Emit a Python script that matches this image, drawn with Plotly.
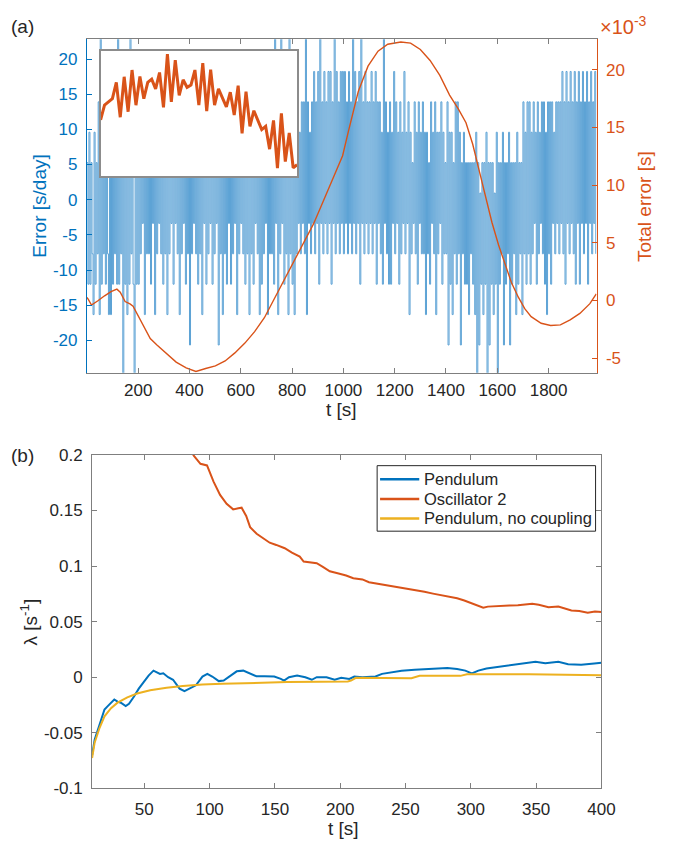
import plotly.graph_objects as go

W, H = 685, 858

MAT_BLUE = "rgb(0,114,189)"
MAT_ORANGE = "rgb(217,83,25)"
MAT_YELLOW = "rgb(237,177,32)"
ERR_BLUE = "rgb(92,162,213)"
TXT = "#262626"
AX = "#7f7f7f"
FONT = "Liberation Sans, Arial, Helvetica, sans-serif"

# ---------------- panel (a) ----------------
# per-swing error, quantised in 4.32 s/day steps; one letter per sample (a..m -> level index)
level_codes = "abcdefghijklm"
error_levels = [-24.97, -20.65, -16.33, -12.01, -7.69, -3.37, 0.95,
                5.27, 9.59, 13.91, 18.23, 22.55, 26.87]
error_dt = 4.0  # s between samples
# one string per 40 s block
error_blocks = [
    "hdidhecidh", "ejcmdheidh", "echchdiehd", "mdheiahdic", "hdmehdahdi",
    "dhehficheh", "ehdhfhchei", "fhehdiehch", "ehfidhfheh", "chehfidheh",
    "bhehfiehdh", "ehchfidheh", "fhdhehfibh", "ehchehdhfi", "dhehfichei",
    "fhehdhehci", "ehdhfhehch", "dhehfhchei", "ehdmfhchem", "fhdheicmeh",
    "dhciejfiej", "fjemcjfiej", "fkejfkdmfj", "ekfjekfkdj", "fmekfjekfk",
    "ekfjekfjem", "fkejfkdmfj", "ekfjejfkej", "fkdjfjeidm", "fjeidjdifk",
    "ejfidjeifk", "eifjciehfj", "eidjfiejei", "ciehdjfiej", "cieifjdieh",
    "ejbidichej", "djeibheidh", "dhchehdhci", "ahbgdhchdi", "ahbhdhcgdi",
    "ahdheibhdh", "eibhdhehci", "dhehcjeidj", "ejdiejfidj", "eifjejdicj",
    "ejdjfiejfj", "ejfkejdkfj", "ekfjekdjfk", "djfkejfkdj", "fkejfke",
]
error_seq = "".join(error_blocks)
error_t = [i * error_dt for i in range(len(error_seq))]
error_val = [error_levels[level_codes.index(c)] for c in error_seq]

# accumulated error, units of 1e-3 s
total_t = [0, 5, 18, 30, 43, 69, 94, 117, 130, 149, 168, 180, 200, 221, 247, 272,
           310, 348, 387, 425, 463, 501, 539, 577, 616, 654, 692, 730, 768, 806,
           845, 883, 921, 959, 997, 1020, 1058, 1096, 1135, 1173, 1224, 1262, 1300,
           1338, 1376, 1414, 1448, 1478, 1504, 1529, 1555, 1579, 1605, 1631, 1655,
           1682, 1707, 1732, 1771, 1808, 1846, 1884, 1922, 1961, 1986]
total_err = [0.25, 0.11, -0.40, -0.25, -0.03, 0.40, 0.76, 0.98, 0.72, -0.10, -0.30,
             -0.50, -1.30, -2.20, -3.30, -3.85, -4.60, -5.35, -5.85, -6.16, -5.90,
             -5.68, -5.25, -4.55, -3.70, -2.71, -1.50, 0.11, 1.67, 3.22, 4.92, 6.61,
             8.58, 10.57, 12.54, 14.7, 18.1, 20.3, 21.6, 22.2, 22.4, 22.3, 21.75,
             20.8, 19.5, 17.8, 16.6, 15.4, 13.56, 11.3, 9.04, 6.78, 4.8, 3.11, 1.55,
             0.28, -0.71, -1.41, -1.98, -2.17, -2.12, -1.69, -1.13, -0.28, 0.57]

# inset trace (arbitrary units)
inset_values = [44.8, 56.5, 59.1, 61.7, 74.7, 46.9, 79.2, 51.3, 84.6, 56.5, 79.4,
                61.7, 74.7, 77.3, 69.5, 82.6, 54.7, 97.4, 59.1, 92.4, 64.3, 76.8,
                70.8, 72.7, 84.6, 56.5, 90.1, 51.8, 84.9, 56.5, 69.5, 63.0, 55.2,
                66.9, 48.7, 72.1, 33.9, 67.4, 39.6, 52.1, 44.8, 37.0, 39.6, 21.4,
                44.3, 6.3, 50.0, 11.5, 34.4, 6.5, 8.9]
inset_index = list(range(len(inset_values)))

# ---------------- panel (b) ----------------
osc2_t = [86, 88, 93, 98, 103, 108, 113, 118, 122, 124.5, 128, 131, 136, 141, 146,
          151, 157.5, 163, 169, 172, 177, 182, 187, 192, 198, 204.5, 210, 217, 222,
          227, 233, 239.5, 246, 252, 258, 264.5, 271, 277, 283, 289.5, 295, 299.5,
          305, 309.5, 313, 317, 323, 329.5, 336, 342, 347, 352, 359.5, 367, 372,
          377, 383, 389.5, 395, 400]
osc2_lam = [0.203, 0.199, 0.192, 0.1905, 0.176, 0.164, 0.156, 0.151, 0.152, 0.1525,
            0.145, 0.135, 0.129, 0.1246, 0.121, 0.119, 0.116, 0.112, 0.1085, 0.104,
            0.103, 0.1026, 0.099, 0.0953, 0.0935, 0.0915, 0.089, 0.088, 0.0855,
            0.0845, 0.083, 0.0821, 0.0805, 0.0797, 0.078, 0.0768, 0.0752, 0.0739,
            0.0725, 0.071, 0.069, 0.0669, 0.064, 0.0625, 0.0635, 0.0639, 0.064,
            0.0645, 0.0648, 0.0655, 0.066, 0.0651, 0.063, 0.0636, 0.0615, 0.060,
            0.0595, 0.058, 0.059, 0.0586]

pend_t = [10, 12, 15.75, 19.5, 22, 24.5, 27, 29.5, 32, 35.75, 38.25, 42, 45.75, 49.5,
          53.25, 57, 59.5, 62, 64.5, 68.25, 72, 77, 80.75, 84.5, 89.5, 94.5, 98.25,
          102, 107, 110.75, 115.75, 120.75, 125.75, 130.75, 135.75, 142, 149.5,
          154.5, 157, 160.75, 167, 173.25, 178.25, 182, 189.5, 195.75, 200.75, 207,
          210.75, 217, 222, 227, 232, 239.5, 247, 257, 269.5, 282, 289.5, 295.75,
          300.75, 305.75, 312, 322, 332, 342, 349.5, 357, 367, 374.5, 384.5, 394.5,
          400]
pend_lam = [-0.070, -0.056, -0.0425, -0.029, -0.026, -0.023, -0.020, -0.022, -0.023,
            -0.026, -0.024, -0.0176, -0.0103, -0.0044, 0.0015, 0.0059, 0.0044, 0.003,
            0.0035, 0.0, -0.0023, -0.0103, -0.0126, -0.0103, -0.0073, 0.0006, 0.003,
            0.0006, -0.0035, -0.003, 0.0015, 0.0053, 0.0059, 0.0035, 0.0009, 0.0009,
            0.0006, -0.0015, -0.003, 0.0, 0.0015, 0.0, -0.0023, 0.0, 0.0, -0.0023,
            -0.0006, -0.0015, 0.0006, 0.0, 0.0006, 0.0006, 0.003, 0.0044, 0.0059,
            0.0067, 0.0073, 0.0082, 0.0073, 0.0059, 0.0035, 0.0059, 0.0079, 0.0094,
            0.0108, 0.0129, 0.0138, 0.0126, 0.0138, 0.0117, 0.0111, 0.0123, 0.0129]

nocoup_t = [10, 12, 15.75, 19.5, 24.5, 29.5, 37, 44.5, 54.5, 67, 79.5, 94.5, 109.5,
            134.5, 159.5, 184.5, 205.75, 208.25, 212, 254.5, 260.75, 292, 297,
            344.5, 400]
nocoup_lam = [-0.0727, -0.0587, -0.0455, -0.0352, -0.0279, -0.0229, -0.0182, -0.0147,
              -0.0117, -0.0094, -0.0079, -0.0065, -0.0059, -0.005, -0.0044, -0.0041,
              -0.0038, -0.003, -0.0006, -0.0009, 0.0012, 0.0012, 0.0026, 0.0026,
              0.0018]

a_xticks = [200, 400, 600, 800, 1000, 1200, 1400, 1600, 1800]
a_yticks = [-20, -15, -10, -5, 0, 5, 10, 15, 20]
a_y2ticks = [-5, 0, 5, 10, 15, 20]
b_xticks = [50, 100, 150, 200, 250, 300, 350, 400]
b_yticks = [-0.1, -0.05, 0, 0.05, 0.1, 0.15, 0.2]
b_ytext = ["-0.1", "-0.05", "0", "0.05", "0.1", "0.15", "0.2"]

legend_names = ["Pendulum", "Oscillator 2", "Pendulum, no coupling"]
legend_colors = [MAT_BLUE, MAT_ORANGE, MAT_YELLOW]


def px(x):
    return x / W


def py(y):
    return 1 - y / H


fig = go.Figure()

fig.add_trace(go.Scatter(x=error_t, y=error_val, mode="lines", xaxis="x", yaxis="y",
                         line=dict(color=ERR_BLUE, width=1, shape="hv", simplify=False),
                         showlegend=False, hoverinfo="skip"))
fig.add_trace(go.Scatter(x=total_t, y=total_err, mode="lines", xaxis="x", yaxis="y2",
                         line=dict(color=MAT_ORANGE, width=1.4),
                         showlegend=False, hoverinfo="skip"))

# inset: white panel then its curve
fig.add_trace(go.Scatter(x=[0, 50, 50, 0, 0], y=[0, 0, 100, 100, 0], mode="lines",
                         fill="toself", fillcolor="white", line=dict(width=0),
                         xaxis="x3", yaxis="y4", showlegend=False, hoverinfo="skip"))
fig.add_trace(go.Scatter(x=inset_index, y=inset_values, mode="lines",
                         xaxis="x3", yaxis="y4",
                         line=dict(color=MAT_ORANGE, width=3),
                         showlegend=False, hoverinfo="skip"))

# panel (b)
for name, tt, vv, col in [(legend_names[0], pend_t, pend_lam, legend_colors[0]),
                          (legend_names[1], osc2_t, osc2_lam, legend_colors[1]),
                          (legend_names[2], nocoup_t, nocoup_lam, legend_colors[2])]:
    fig.add_trace(go.Scatter(x=tt, y=vv, mode="lines", name=name, xaxis="x2",
                             yaxis="y3", line=dict(color=col, width=2),
                             showlegend=False, hoverinfo="skip"))

tickfont = dict(family=FONT, size=17, color=TXT)
common = dict(showgrid=False, zeroline=False, ticks="inside", ticklen=5)

fig.update_layout(
    width=W, height=H,
    margin=dict(l=0, r=0, t=0, b=0),
    paper_bgcolor="white", plot_bgcolor="white",
    font=dict(family=FONT, color=TXT),
    showlegend=False,
    xaxis=dict(domain=[px(88.7), px(609)], anchor="y", range=[0, 1987],
               tickvals=a_xticks, ticktext=[str(v) for v in a_xticks],
               tickfont=tickfont, showline=True, linecolor=AX, tickcolor=AX,
               mirror="ticks", ticklabelstandoff=2, **common),
    yaxis=dict(domain=[py(372), py(31)], anchor="x", range=[-24.6, 22.8],
               tickvals=a_yticks, ticktext=[str(v) for v in a_yticks],
               tickfont=dict(family=FONT, size=17, color=MAT_BLUE),
               showline=True, linecolor=MAT_BLUE, tickcolor=MAT_BLUE,
               ticklabelstandoff=5, **common),
    yaxis2=dict(overlaying="y", side="right", anchor="x", range=[-6.27, 22.63],
                tickvals=a_y2ticks, ticktext=[str(v) for v in a_y2ticks],
                tickfont=dict(family=FONT, size=17, color=MAT_ORANGE),
                showline=True, linecolor=MAT_ORANGE, tickcolor=MAT_ORANGE,
                ticklabelstandoff=5, **common),
    xaxis3=dict(domain=[px(102.7), px(303.3)], anchor="y4", range=[0, 50],
                showticklabels=False, showgrid=False, zeroline=False, ticks="",
                showline=True, mirror=True, linecolor="#8c8c8c", linewidth=1.5),
    yaxis4=dict(domain=[py(170.7), py(42.7)], anchor="x3", range=[0, 100],
                showticklabels=False, showgrid=False, zeroline=False, ticks="",
                showline=True, mirror=True, linecolor="#8c8c8c", linewidth=1.5),
    xaxis2=dict(domain=[px(94), px(614)], anchor="y3", range=[10, 400],
                tickvals=b_xticks, ticktext=[str(v) for v in b_xticks],
                tickfont=tickfont, showline=True, linecolor=AX, tickcolor=AX,
                mirror="ticks", ticklabelstandoff=5, **common),
    yaxis3=dict(domain=[py(797), py(456)], anchor="x2", range=[-0.1, 0.2],
                tickvals=b_yticks, ticktext=b_ytext,
                tickfont=tickfont, showline=True, linecolor=AX, tickcolor=AX,
                mirror="ticks", ticklabelstandoff=5, **common),
)

# legend box for panel (b)
shapes = [dict(type="rect", xref="paper", yref="paper", x0=px(385), x1=px(608),
               y0=py(534), y1=py(467), line=dict(color=TXT, width=1),
               fillcolor="white", layer="above")]
legend_rows = [481, 501, 521]
for yy, col in zip(legend_rows, legend_colors):
    shapes.append(dict(type="line", xref="paper", yref="paper", x0=px(388), x1=px(428),
                       y0=py(yy), y1=py(yy), line=dict(color=col, width=2.5),
                       layer="above"))
fig.update_layout(shapes=shapes)
for yy, name in zip(legend_rows, legend_names):
    fig.add_annotation(text=name, x=px(431), y=py(yy), xref="paper", yref="paper",
                       showarrow=False, xanchor="left", yanchor="middle",
                       font=dict(family=FONT, size=16.5, color=TXT))

ann = [
    dict(text="(a)", x=px(23), y=py(18), size=19, color=TXT),
    dict(text="(b)", x=px(23), y=py(457), size=19, color=TXT),
    dict(text="Error [s/day]", x=px(40), y=py(202), size=19, color=MAT_BLUE, angle=-90),
    dict(text="Total error [s]", x=px(658), y=py(202), size=19, color=MAT_ORANGE, angle=-90),
    dict(text="t [s]", x=px(349), y=py(410), size=19, color=TXT),
    dict(text="t [s]", x=px(351), y=py(838), size=19, color=TXT),
    dict(text="λ [s<sup>-1</sup>]", x=px(30), y=py(627), size=19, color=TXT, angle=-90),
]
for a in ann:
    fig.add_annotation(text=a["text"], x=a["x"], y=a["y"], xref="paper", yref="paper",
                       showarrow=False, textangle=a.get("angle", 0),
                       xanchor="center", yanchor="middle",
                       font=dict(family=FONT, size=a["size"], color=a["color"]))
fig.add_annotation(text="×10<sup>-3</sup>", x=px(610), y=py(17), xref="paper",
                   yref="paper", showarrow=False, xanchor="left", yanchor="middle",
                   font=dict(family=FONT, size=20, color=MAT_ORANGE))

fig.write_html("out.html")
